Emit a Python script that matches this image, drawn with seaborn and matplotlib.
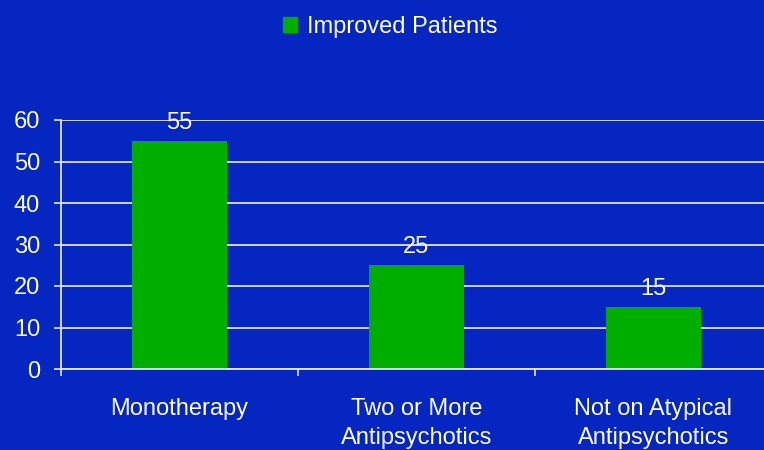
import matplotlib
matplotlib.use("Agg")
import matplotlib.pyplot as plt
import seaborn as sns
import pandas as pd

categories = ["Monotherapy", "Two or More\nAntipsychotics", "Not on Atypical\nAntipsychotics"]
improved = [55, 25, 15]
series_name = "Improved Patients"
y_ticks = [0, 10, 20, 30, 40, 50, 60]

bg = "#0526C0"
bar_color = "#00AE00"
line_color = "#E0E4F4"
fs = 17

sns.set_theme(style="white")
plt.rcParams["font.family"] = ["Liberation Sans", "DejaVu Sans"]

df = pd.DataFrame({"category": categories, "value": improved, "series": series_name})

fig = plt.figure(figsize=(7.64, 4.5), dpi=100, facecolor=bg)
ax = fig.add_axes([61 / 764, 1 - 369 / 450, (772 - 61) / 764, (369 - 120) / 450])
ax.set_facecolor(bg)

sns.barplot(data=df, x="category", y="value", hue="series", palette=[bar_color],
            width=0.4, ax=ax, saturation=1, legend=False, edgecolor="none", linewidth=0)

ax.set_xlim(-0.5, 2.5)
ax.set_ylim(0, 60)
ax.set_yticks(y_ticks)
ax.set_xticks([-0.5, 0.5, 1.5, 2.5], minor=False)
ax.set_xticklabels([])
ax.set_xticks([0, 1, 2], minor=True)
ax.set_xticklabels(categories, minor=True, color="white", fontsize=fs, linespacing=1.38)
ax.tick_params(axis="x", which="minor", bottom=True, length=0, pad=21)
ax.tick_params(axis="x", which="major", bottom=True, direction="out", length=5,
               width=1.2, color=line_color)
ax.tick_params(axis="y", left=True, direction="out", length=5, width=1.2, color=line_color,
               labelcolor="white", labelsize=fs, pad=10)
ax.set_xlabel("")
ax.set_ylabel("")

ax.grid(axis="y", color=line_color, linewidth=1.3)
ax.set_axisbelow(True)
for side in ["top", "right"]:
    ax.spines[side].set_visible(False)
for side in ["left", "bottom"]:
    ax.spines[side].set_color(line_color)
    ax.spines[side].set_linewidth(1.3)

for container in ax.containers:
    ax.bar_label(container, labels=[str(v) for v in improved], padding=5,
                 color="white", fontsize=fs)

handle = plt.Rectangle((0, 0), 1, 1, color=bar_color)
fig.legend([handle], [series_name], loc="center", bbox_to_anchor=(390 / 764, 1 - 27 / 450),
           frameon=False, fontsize=fs, labelcolor="white", handlelength=0.6,
           handleheight=0.6, handletextpad=0.4)

fig.savefig("out.png", dpi=100, facecolor=bg)
